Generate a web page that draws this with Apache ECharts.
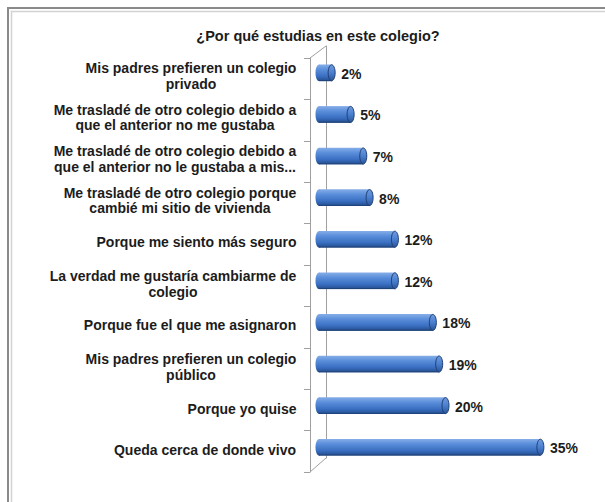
<!DOCTYPE html>
<html><head><meta charset="utf-8">
<script src="https://cdn.jsdelivr.net/npm/echarts@6/dist/echarts.min.js"></script>
<style>html,body{margin:0;padding:0;background:#fff}#c{width:605px;height:502px}</style>
</head><body><div id="c"></div>
<script>
const titleText = '¿Por qué estudias en este colegio?';
const categories = [
  'Mis padres prefieren un colegio\nprivado',
  'Me trasladé de otro colegio debido a\nque el anterior no me gustaba',
  'Me trasladé de otro colegio debido a\nque el anterior no le gustaba a mis...',
  'Me trasladé de otro colegio porque\ncambié mi sitio de vivienda',
  'Porque me siento más seguro',
  'La verdad me gustaría cambiarme de\ncolegio',
  'Porque fue el que me asignaron',
  'Mis padres prefieren un colegio\npúblico',
  'Porque yo quise',
  'Queda cerca de donde vivo'
];
const values = [2, 5, 7, 8, 12, 12, 18, 19, 20, 35];

const FONT = 'Liberation Sans';
const LABEL_SIZE = 14;
const TEXT_COLOR = '#1c1c1c';

// measure lines so that multi-line labels are centred within their block
const ctx = document.createElement('canvas').getContext('2d');
ctx.font = 'bold ' + LABEL_SIZE + 'px "' + FONT + '"';
const rich = {};
categories.forEach((c, i) => {
  const w = Math.max(...c.split('\n').map(l => ctx.measureText(l).width));
  rich['c' + i] = { width: Math.ceil(w) + 1, align: 'center', fontFamily: FONT, fontWeight: 'bold',
    fontSize: LABEL_SIZE, color: TEXT_COLOR, lineHeight: 15.5 };
});

const chart = echarts.init(document.getElementById('c'), null, { renderer: 'svg' });

function renderBar(params, api) {
  const v = api.value(0), idx = api.value(1);
  const p0 = api.coord([0, idx]);
  const p1 = api.coord([v, idx]);
  const band = api.size([0, 1])[1];
  const h = band * 0.4;
  const cy = p0[1];
  const rx = 3.5;
  const body = new echarts.graphic.LinearGradient(0, 0, 0, 1, [
    { offset: 0, color: '#86aee8' },
    { offset: 0.3, color: '#5b8fdb' },
    { offset: 0.7, color: '#3a6fc2' },
    { offset: 1, color: '#234d8c' }
  ]);
  const cap = new echarts.graphic.LinearGradient(0, 0, 0, 1, [
    { offset: 0, color: '#6f9be0' },
    { offset: 0.5, color: '#4a7fcf' },
    { offset: 1, color: '#2a5598' }
  ]);
  return {
    type: 'group',
    children: [
      { type: 'ellipse', shape: { cx: p0[0], cy: cy, rx: rx, ry: h / 2 }, style: { fill: body } },
      { type: 'rect', shape: { x: p0[0], y: cy - h / 2, width: p1[0] - p0[0], height: h }, style: { fill: body } },
      { type: 'line', shape: { x1: p0[0], y1: cy + h / 2 - 0.5, x2: p1[0], y2: cy + h / 2 - 0.5 }, style: { stroke: '#1f4378', lineWidth: 1 } },
      { type: 'ellipse', shape: { cx: p1[0], cy: cy, rx: rx, ry: h / 2 - 0.3 }, style: { fill: cap, stroke: '#203f73', lineWidth: 1 } },
      { type: 'text', x: p1[0] + rx + 6, y: cy + 1,
        style: { text: v + '%', fontFamily: FONT, fontWeight: 'bold', fontSize: 14, fill: TEXT_COLOR, verticalAlign: 'middle', align: 'left' } }
    ]
  };
}

const option = {
  backgroundColor: '#ffffff',
  animation: false,
  title: {
    text: titleText, left: 313, top: 23, textAlign: 'center',
    textStyle: { fontFamily: FONT, fontWeight: 'bold', fontSize: 14.5, color: TEXT_COLOR }
  },
  graphic: [
    { type: 'rect', shape: { x: 8, y: 8, width: 640, height: 540 }, style: { fill: 'none', stroke: '#8a8a8a', lineWidth: 2 }, silent: true },
    { type: 'rect', shape: { x: 11.5, y: 11.5, width: 640, height: 540 }, style: { fill: 'none', stroke: '#d2d2d2', lineWidth: 1.5 }, silent: true },
    { type: 'line', shape: { x1: 310, y1: 58, x2: 326, y2: 46 }, style: { stroke: '#a0a0a0', lineWidth: 1 }, silent: true },
    { type: 'line', shape: { x1: 310, y1: 472, x2: 326, y2: 458 }, style: { stroke: '#a0a0a0', lineWidth: 1 }, silent: true }
  ],
  grid: [
    { left: 319, top: 52, height: 416, width: 253 },
    { left: 310, top: 58, height: 414, width: 10 },
    { left: 326, top: 46, height: 412, width: 10 }
  ],
  xAxis: [
    { type: 'value', gridIndex: 0, min: 0, max: 40, show: false },
    { type: 'value', gridIndex: 1, show: false },
    { type: 'value', gridIndex: 2, show: false }
  ],
  yAxis: [
    { type: 'category', gridIndex: 0, data: categories, inverse: true,
      axisLine: { show: false }, axisTick: { show: false }, splitLine: { show: false },
      axisLabel: { margin: 22, padding: [6, 0, 0, 0],
        formatter: (val, i) => val.split('\n').map(l => '{c' + i + '|' + l + '}').join('\n'),
        rich: rich } },
    { type: 'category', gridIndex: 1, data: categories, inverse: true,
      axisLine: { show: true, lineStyle: { color: '#a0a0a0', width: 1 } },
      axisTick: { show: true, length: 6, lineStyle: { color: '#a0a0a0' } },
      axisLabel: { show: false }, splitLine: { show: false } },
    { type: 'category', gridIndex: 2, data: categories, inverse: true,
      axisLine: { show: true, lineStyle: { color: '#a0a0a0', width: 1 } },
      axisTick: { show: false }, axisLabel: { show: false }, splitLine: { show: false } }
  ],
  series: [{
    type: 'custom',
    xAxisIndex: 0, yAxisIndex: 0,
    renderItem: renderBar,
    encode: { x: 0, y: 1 },
    data: values.map((v, i) => [v, i])
  }]
};
chart.setOption(option);
</script>
</body></html>
